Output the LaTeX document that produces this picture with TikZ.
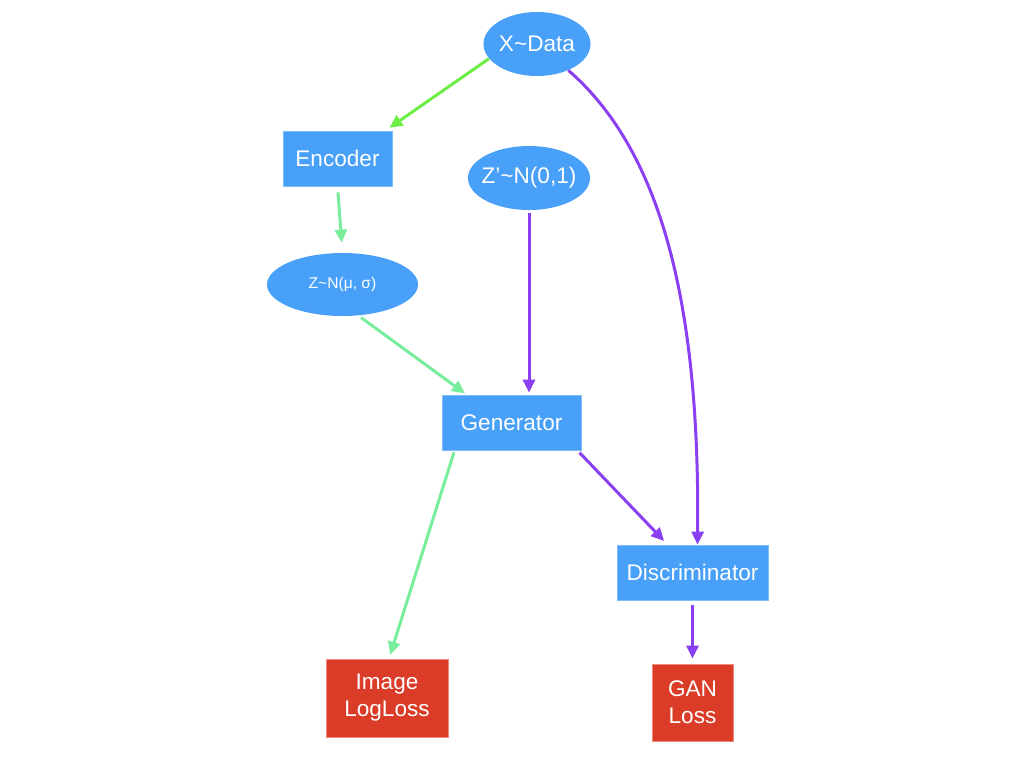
\documentclass[tikz,border=0pt]{standalone}
\usepackage{fontspec}
\setmainfont{Liberation Sans}
\usetikzlibrary{shapes.geometric,arrows.meta,calc}
\definecolor{nodeblue}{HTML}{48A0F8}
\definecolor{lossred}{HTML}{DA3C27}
\definecolor{lossredborder}{HTML}{F08A7A}
\definecolor{arrpurple}{HTML}{8A3FF2}
\definecolor{arrgreen}{HTML}{6DEE45}
\definecolor{arrmint}{HTML}{78EE9C}
\tikzset{
  blueell/.style={ellipse, fill=nodeblue, text=white, inner sep=0pt, font=\fontsize{11.3}{13}\selectfont},
  bluebox/.style={rectangle, fill=nodeblue, draw=nodeblue!70!white, line width=0.4pt, text=white, inner sep=0pt, font=\fontsize{11.3}{13}\selectfont},
  redbox/.style={rectangle, fill=lossred, draw=lossredborder, line width=0.4pt, text=white, inner sep=0pt, align=center, font=\fontsize{11.3}{13.5}\selectfont},
  conn/.style={line width=1.5pt, -{Triangle[length=6.5pt,width=6pt]}},
  purpleconn/.style={conn, draw=arrpurple},
  greenconn/.style={conn, draw=arrgreen},
  mintconn/.style={conn, draw=arrmint},
}
\begin{document}
\begin{tikzpicture}[x=0.5pt,y=-0.5pt]
\useasboundingbox (0,0) rectangle (1024,768);
% nodes
\node[blueell, minimum width=53.5pt, minimum height=32pt, inner xsep=-3pt] (xdata) at (537,44) {X\char`~Data};
\node[bluebox, minimum width=54.5pt, minimum height=27.5pt] (enc) at (337.5,158.5) {Encoder};
\node[blueell, minimum width=61pt, minimum height=32pt, inner xsep=-6pt] (zp) at (529,178) {Z’\char`~N(0,1)};
\node[blueell, minimum width=75.5pt, minimum height=31.5pt, font=\fontsize{7.8}{9}\selectfont] (zn) at (342.5,284.5) {Z\char`~N(μ, σ)};
\node[bluebox, minimum width=69.5pt, minimum height=27.5pt] (gen) at (511.5,422.5) {Generator};
\node[bluebox, minimum width=75.5pt, minimum height=27.5pt] (disc) at (692.5,572.5) {Discriminator};
\node[redbox, minimum width=61pt, minimum height=39pt] (img) at (387,698) {Image\\LogLoss};
\node[redbox, minimum width=40.5pt, minimum height=38.5pt] (gan) at (692.5,702.5) {GAN\\Loss};
% connectors
\draw[greenconn, shorten >=2.5pt] (xdata.197) -- ($(enc.north east)+(-7,0)$);
\draw[purpleconn] (xdata.-40) .. controls (660,150) and (700,300) .. ($(disc.north)+(5,0)$);
\draw[mintconn, shorten <=3pt, shorten >=5pt] (enc.south) -- (zn.north);
\draw[mintconn, shorten <=1pt, shorten >=1pt] ($(zn.south)+(17,0)$) -- ($(gen.north west)+(25,0)$);
\draw[purpleconn, shorten <=1.5pt, shorten >=1pt] (zp.south) -- (zp.south |- gen.north);
\draw[purpleconn, shorten <=1.5pt, shorten >=2.5pt] ($(gen.south east)+(-4,0)$) -- ($(disc.north west)+(51,0)$);
\draw[mintconn, shorten <=1pt, shorten >=2pt] ($(gen.south west)+(13,0)$) -- ($(img.north)+(2,0)$);
\draw[purpleconn, shorten <=2.5pt, shorten >=2.5pt] (disc.south) -- (gan.north);
\end{tikzpicture}
\end{document}
